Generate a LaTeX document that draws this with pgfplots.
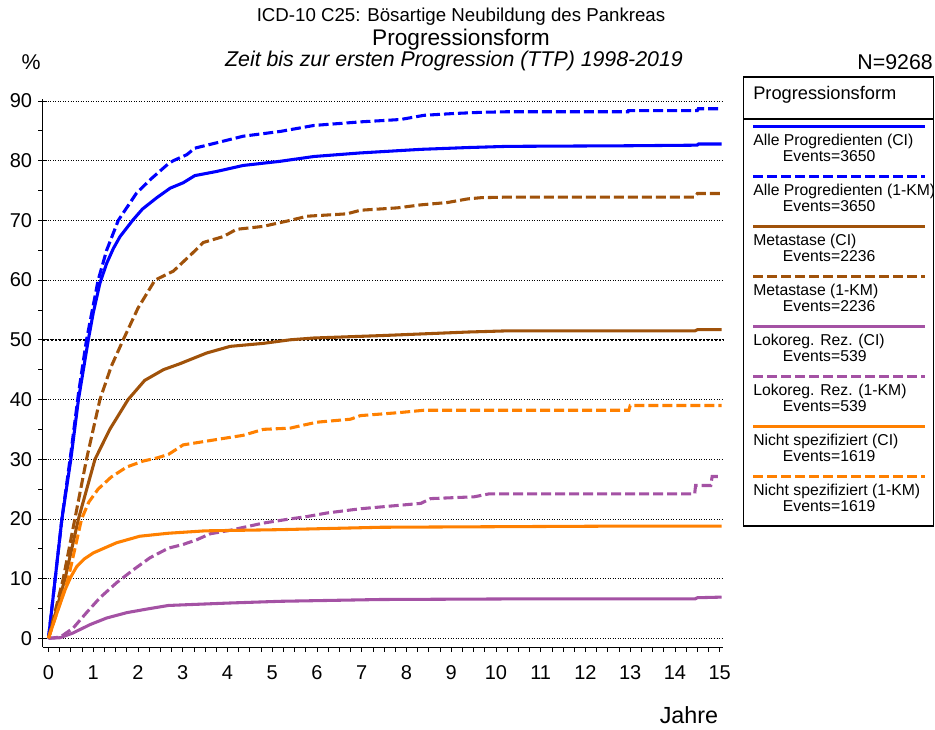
\documentclass[border=0pt]{standalone}
\usepackage{fontspec}
\setmainfont{Liberation Sans}
\usepackage{pgfplots}
\pgfplotsset{compat=1.18}
\definecolor{cblue}{RGB}{0,0,255}
\definecolor{cbrown}{RGB}{160,82,10}
\definecolor{cpurple}{RGB}{164,82,164}
\definecolor{corange}{RGB}{255,128,0}
\tikzset{
 solidl/.style={line width=2.3pt, line join=round},
 dashl/.style={line width=2.3pt, dash pattern=on 7.5pt off 3pt},
}
\newcommand{\legentry}[5]{%
 \draw[#2,#3] (753,#1) -- (925,#1);
 \node[anchor=west, inner sep=0pt, font=\fontsize{11.8}{14}\selectfont] at (753,{#1-14.3}) {#4};
 \node[anchor=west, inner sep=0pt, font=\fontsize{11.8}{14}\selectfont] at (782.7,{#1-29.3}) {#5};
}
\begin{document}
\begin{tikzpicture}[x=0.75pt,y=0.75pt]
\useasboundingbox (0,0) rectangle (935,729);
\begin{axis}[
 at={(32.0pt,61.3pt)}, anchor=south west,
 scale only axis, width=510.15pt, height=411.5pt,
 xmin=-0.13, xmax=15.07, ymin=-1.5, ymax=90.4,
 axis lines=left, axis line style={-, line width=0.8pt},
 xtick={0,...,15}, ytick={0,10,...,90},
 minor x tick num=3, minor y tick num=1,
 tick align=outside,
 major tick length=3.4pt, minor tick length=3.2pt,
 tick style={black, line width=0.6pt},
 extra y ticks={0,10,...,90}, extra y tick labels={},
 extra y tick style={tick align=inside, grid=none},
 ymajorgrids, major grid style={black, line width=0.6pt, dash pattern=on 0.6pt off 1.3pt},
 tick label style={font=\fontsize{15}{18}\selectfont},
 xticklabel style={yshift=-7pt},
 yticklabel style={xshift=-1pt},
 /pgf/number format/assume math mode=true,
 clip=false,
]
\draw[black, line width=1.4pt, dash pattern=on 1.4pt off 1.6pt] (axis cs:-0.13,50) -- (axis cs:15.07,50);
% Alle Progredienten (CI)
\addplot[cblue, solidl] coordinates {(0,0) (0.15,10) (0.3,20) (0.5,30) (0.67,40) (0.78,45) (0.89,50) (1.0,54.5) (1.15,59.5) (1.3,62.8) (1.45,65.3) (1.6,67.3) (1.88,70) (2.1,71.9) (2.42,73.8) (2.72,75.4) (3.01,76.3) (3.27,77.5) (3.76,78.2) (4.35,79.2) (5.18,79.9) (5.93,80.7) (6.97,81.3) (8.32,81.9) (9.37,82.2) (10.26,82.4) (12.95,82.5) (14.5,82.6) (14.52,82.8) (15.04,82.8)};
% Alle Progredienten (1-KM)
\addplot[cblue, dashl] coordinates {(0,0) (0.15,10) (0.3,20) (0.5,31) (0.67,41) (0.85,50) (1.11,60) (1.3,65) (1.56,70) (1.97,74.6) (2.3,77) (2.68,79.5) (2.79,80) (3.09,81) (3.27,82.1) (3.76,83) (4.35,84.1) (5.18,84.9) (5.93,85.9) (6.97,86.5) (7.87,86.9) (8.39,87.6) (9.05,87.9) (9.66,88.1) (10.26,88.2) (12.95,88.2) (12.96,88.4) (14.5,88.4) (14.52,88.7) (15.04,88.7)};
% Metastase (CI)
\addplot[cbrown, solidl] coordinates {(0,0) (0.37,10) (0.67,20) (1.04,30) (1.37,35) (1.78,40) (2.15,43.2) (2.57,45) (2.94,46) (3.54,47.8) (4.06,48.9) (4.8,49.4) (5.4,50) (5.93,50.3) (7.42,50.7) (9.37,51.3) (10.26,51.5) (14.45,51.5) (14.5,51.7) (15.04,51.7)};
% Metastase (1-KM)
\addplot[cbrown, dashl] coordinates {(0,0) (0.33,10) (0.59,20) (0.85,30) (1.15,40) (1.4,45.5) (1.67,50) (2.0,55.3) (2.38,60) (2.79,61.5) (3.23,64.6) (3.46,66.3) (3.91,67.3) (4.2,68.5) (4.8,69) (5.4,70) (5.78,70.7) (6.67,71.1) (6.97,71.7) (7.8,72.1) (8.32,72.6) (8.92,73) (9.37,73.6) (9.66,73.8) (10.26,73.9) (14.45,73.9) (14.5,74.5) (15.04,74.5)};
% Lokoreg. Rez. (CI)
\addplot[cpurple, solidl] coordinates {(0,0) (0.26,0.1) (0.55,0.9) (0.93,2.3) (1.3,3.4) (1.75,4.3) (2.2,4.9) (2.68,5.5) (3.0,5.6) (4.0,5.9) (5.18,6.2) (7.42,6.5) (10.4,6.6) (14.45,6.6) (14.5,6.8) (15.04,6.9)};
% Lokoreg. Rez. (1-KM)
\addplot[cpurple, dashl] coordinates {(0,0) (0.26,0.2) (0.55,1.7) (0.85,4.3) (1.15,6.8) (1.52,9.3) (1.9,11.5) (2.27,13.5) (2.68,15.1) (3.0,15.7) (3.31,16.5) (3.61,17.5) (4.06,18.1) (4.8,19.3) (5.4,20) (5.78,20.4) (6.23,21.0) (6.97,21.7) (7.57,22.1) (8.32,22.6) (8.54,23.4) (9.51,23.7) (9.85,24.2) (14.44,24.2) (14.46,25.6) (14.8,25.6) (14.83,27.1) (15.04,27.1)};
% Nicht spezifiziert (CI)
\addplot[corange, solidl] coordinates {(0,0) (0.2,4.5) (0.38,8.3) (0.5,10.3) (0.63,12) (0.8,13.3) (1.0,14.3) (1.52,16) (2.04,17.1) (2.68,17.6) (3.5,18) (5.18,18.2) (7.42,18.6) (12.95,18.8) (15.04,18.8)};
% Nicht spezifiziert (1-KM)
\addplot[corange, dashl] coordinates {(0,0) (0.44,10) (0.74,20) (0.9,22.8) (1.11,25) (1.4,27) (1.75,28.7) (2.12,29.7) (2.42,30.2) (2.68,30.8) (3.01,32.4) (3.76,33.3) (4.35,34) (4.8,35) (5.4,35.2) (5.63,35.6) (6.0,36.2) (6.75,36.7) (6.97,37.3) (7.83,37.8) (8.39,38.2) (12.97,38.2) (13.0,39.0) (15.04,39.0)};
\end{axis}
% titles
\node[font=\fontsize{14}{16}\selectfont] at (461,712) {ICD-10 C25: Bösartige Neubildung des Pankreas};
\node[font=\fontsize{17}{20}\selectfont] at (461,689) {Progressionsform};
\node[font=\fontsize{16}{19}\selectfont\itshape] at (454,668) {Zeit bis zur ersten Progression (TTP) 1998-2019};
\node[font=\fontsize{16}{19}\selectfont] at (31,667) {\%};
\node[font=\fontsize{16}{19}\selectfont, anchor=east, inner sep=0pt] at (933,667) {N=9268};
\node[font=\fontsize{17.5}{20}\selectfont] at (689,14) {Jahre};
% legend
\draw[line width=0.8pt] (743.3,203) rectangle (933.3,652);
\draw[line width=0.8pt] (743.3,610) -- (933.3,610);
\node[anchor=west, inner sep=0pt, font=\fontsize{13.7}{16}\selectfont] at (753,634) {Progressionsform};
\begin{scope}
\clip (743.3,203) rectangle (932.6,652);
\legentry{602.3}{cblue}{solidl}{Alle Progredienten (CI)}{Events=3650}
\legentry{552.3}{cblue}{dashl}{Alle Progredienten (1-KM)}{Events=3650}
\legentry{502.3}{cbrown}{solidl}{Metastase (CI)}{Events=2236}
\legentry{452.3}{cbrown}{dashl}{Metastase (1-KM)}{Events=2236}
\legentry{402.3}{cpurple}{solidl}{Lokoreg. Rez. (CI)}{Events=539}
\legentry{352.3}{cpurple}{dashl}{Lokoreg. Rez. (1-KM)}{Events=539}
\legentry{302.3}{corange}{solidl}{Nicht spezifiziert (CI)}{Events=1619}
\legentry{252.3}{corange}{dashl}{Nicht spezifiziert (1-KM)}{Events=1619}
\end{scope}
\end{tikzpicture}
\end{document}
